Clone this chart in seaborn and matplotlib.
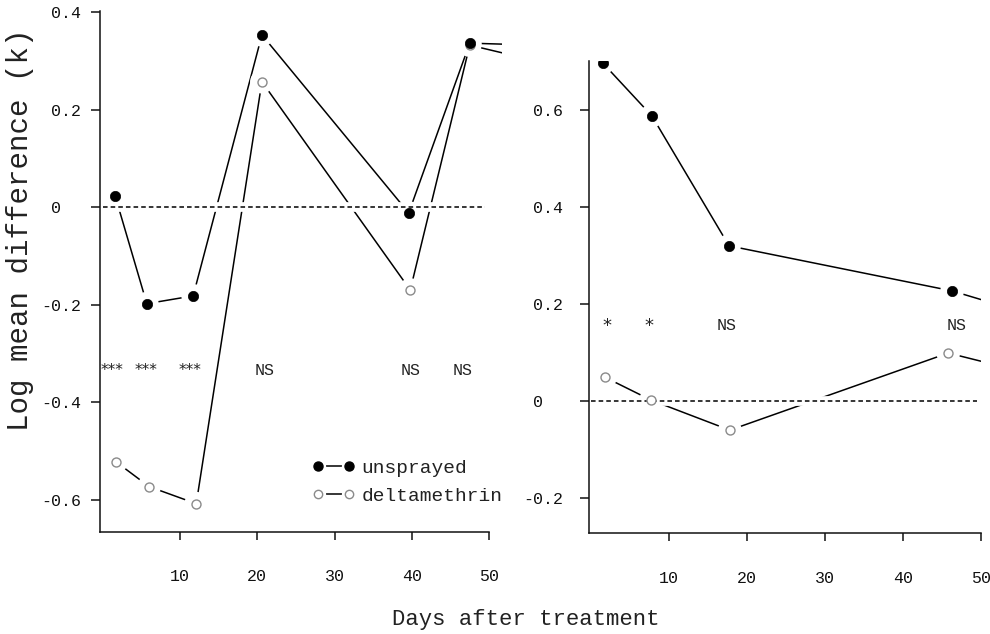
import matplotlib
matplotlib.use('Agg')
import matplotlib.pyplot as plt
import seaborn as sns
from matplotlib.lines import Line2D

# left panel (days after treatment, log mean difference k)
left_days_unsprayed = [1.6, 5.7, 11.7, 20.6, 39.6, 47.5, 56.0]
left_k_unsprayed = [0.023, -0.198, -0.182, 0.353, -0.012, 0.336, 0.332]
left_days_delta = [1.7, 6.0, 12.1, 20.6, 39.8, 47.5, 56.0]
left_k_delta = [-0.522, -0.573, -0.608, 0.257, -0.170, 0.332, 0.300]
left_sig_days = [1.2, 5.6, 11.3, 21.0, 39.9, 46.6]
left_sig_text = ['***', '***', '***', 'NS', 'NS', 'NS']
left_yticks = [0.4, 0.2, 0.0, -0.2, -0.4, -0.6]
left_yticklabels = ['0.4', '0.2', '0  ', '-0.2', '-0.4', '-0.6']

# right panel
right_days_unsprayed = [1.5, 7.8, 17.7, 46.3, 54.0]
right_k_unsprayed = [0.697, 0.588, 0.320, 0.227, 0.190]
right_days_delta = [1.8, 7.7, 17.8, 45.8, 54.0]
right_k_delta = [0.049, 0.002, -0.060, 0.099, 0.066]
right_sig_days = [2.05, 7.4, 17.4, 46.9]
right_sig_text = ['*', '*', 'NS', 'NS']
right_yticks = [0.6, 0.4, 0.2, 0.0, -0.2]
right_yticklabels = ['0.6', '0.4', '0.2', '0  ', '-0.2']

xticks = [10, 20, 30, 40, 50]

sns.set_style('ticks')
plt.rcParams['font.family'] = ['Liberation Mono', 'DejaVu Sans Mono']
plt.rcParams['text.color'] = '#222222'


def draw_panel(ax, d_us, k_us, d_dm, k_dm, sig_days, sig_y, sig_text):
    # connecting lines
    sns.lineplot(x=d_us, y=k_us, ax=ax, color='black', linewidth=1.1,
                 sort=False, estimator=None, zorder=2)
    sns.lineplot(x=d_dm, y=k_dm, ax=ax, color='black', linewidth=1.1,
                 sort=False, estimator=None, zorder=2)
    # white halos so the lines stop short of the points
    for d, k in [(d_us, k_us), (d_dm, k_dm)]:
        sns.scatterplot(x=d, y=k, ax=ax, s=290, color='white',
                        edgecolor='none', zorder=3, legend=False)
    # zero line, breaking the data lines where they cross
    ax.plot([0, 49.5], [0, 0], color='white', lw=7, solid_capstyle='butt', zorder=4)
    ax.plot([0, 49.5], [0, 0], color='black', lw=1.1, ls=(0, (3, 2)), zorder=5)
    sns.scatterplot(x=d_dm, y=k_dm, ax=ax, s=42, color='white',
                    edgecolor='#8a8a8a', linewidth=1.0, zorder=6, legend=False)
    sns.scatterplot(x=d_us, y=k_us, ax=ax, s=55, color='black',
                    edgecolor='black', linewidth=0.5, zorder=7, legend=False)
    for d, t in zip(sig_days, sig_text):
        if '*' in t:
            ax.text(d, sig_y, t, ha='center', va='center', zorder=8,
                    fontsize=11 if len(t) > 1 else 13, family='DejaVu Sans')
        else:
            ax.text(d, sig_y, t, ha='center', va='center', fontsize=12, zorder=8)


fig = plt.figure(figsize=(9.9, 6.34), dpi=100)
ax1 = fig.add_axes([0.1010, 0.1609, 0.4061, 0.8218])
ax2 = fig.add_axes([0.5949, 0.1593, 0.3960, 0.7445])

draw_panel(ax1, left_days_unsprayed, left_k_unsprayed, left_days_delta, left_k_delta,
           left_sig_days, -0.336, left_sig_text)
draw_panel(ax2, right_days_unsprayed, right_k_unsprayed, right_days_delta, right_k_delta,
           right_sig_days, 0.155, right_sig_text)

ax1.set_xlim(-0.36, 51.68)
ax1.set_ylim(-0.666, 0.402)
ax2.set_xlim(-0.26, 50)
ax2.set_ylim(-0.272, 0.701)
ax1.spines['bottom'].set_bounds(-0.36, 50)

for ax, yt, ytl, ypad in [(ax1, left_yticks, left_yticklabels, 7),
                          (ax2, right_yticks, right_yticklabels, 12)]:
    ax.set_xticks(xticks)
    ax.set_yticks(yt)
    ax.set_yticklabels(ytl)
    ax.tick_params(axis='x', direction='out', length=6, width=1.1, pad=21,
                   labelsize=12, colors='#111111')
    ax.tick_params(axis='y', direction='out', length=6.5, width=1.1, pad=ypad,
                   labelsize=12, colors='#111111')
    ax.set_xlabel('')
    ax.set_ylabel('')
    for s in ['left', 'bottom']:
        ax.spines[s].set_linewidth(1.1)
        ax.spines[s].set_color('#111111')
    sns.despine(ax=ax)

# legend handles: short line, white gap, then the marker
seg = Line2D([], [], color='black', lw=1.1)
gap = Line2D([], [], ls='none', marker='o', markersize=11, markerfacecolor='white',
             markeredgecolor='none')
filled = Line2D([], [], ls='none', marker='o', markersize=6.5,
                markerfacecolor='black', markeredgecolor='black')
hollow = Line2D([], [], ls='none', marker='o', markersize=6,
                markerfacecolor='white', markeredgecolor='#8a8a8a')
ax1.legend([(seg, gap, filled), (seg, gap, hollow)], ['unsprayed', 'deltamethrin'],
           loc='upper left', bbox_to_anchor=(0.527, 0.140), frameon=False,
           numpoints=2, handlelength=2.2, handletextpad=0.35, labelspacing=0.55,
           borderpad=0, borderaxespad=0, prop={'size': 14})

fig.text(0.02, 1 - 230 / 634, 'Log mean difference (k)', rotation=90,
         ha='center', va='center', fontsize=21)
fig.text(526 / 990, 1 - 620 / 634, 'Days after treatment',
         ha='center', va='center', fontsize=16)

fig.savefig('out.png', dpi=100)
